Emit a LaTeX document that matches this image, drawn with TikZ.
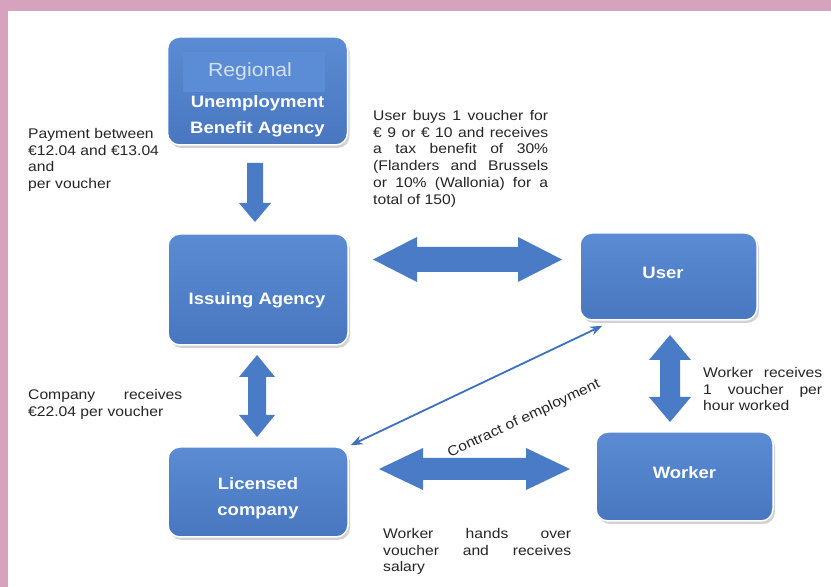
\documentclass[tikz,border=0pt]{standalone}
\usepackage{fontspec}
\setmainfont{Liberation Sans}[FakeStretch=1.12]
\usetikzlibrary{shadows,calc,arrows.meta}
\definecolor{pinkframe}{HTML}{D6A2BE}
\definecolor{boxtop}{HTML}{5A8BD3}
\definecolor{boxbot}{HTML}{4877C0}
\definecolor{arrowblue}{HTML}{4A7BC6}
\definecolor{linkblue}{HTML}{3D70BE}
\definecolor{txtgray}{HTML}{262626}
\definecolor{regtxt}{HTML}{D5E0F2}
\definecolor{reginner}{HTML}{5A8DD5}
\newcommand\jline[2]{\makebox[#1][s]{#2}}
\newcommand\blockdbl[7]{%
\fill[arrowblue,shift={(#1,#2)},rotate=#7] (-#3,0) -- (-#3+#6,#5) -- (-#3+#6,#4) -- (#3-#6,#4) -- (#3-#6,#5) -- (#3,0) -- (#3-#6,-#5) -- (#3-#6,-#4) -- (-#3+#6,-#4) -- (-#3+#6,-#5) -- cycle;}
\begin{document}
\begin{tikzpicture}[x=1pt,y=1pt,
 box/.style={rectangle, rounded corners=12pt, top color=boxtop, bottom color=boxbot, draw=white, line width=1.5pt, drop shadow={shadow xshift=2pt,shadow yshift=-3pt,opacity=0.35}, inner sep=0pt},
 boxtext/.style={text=white, font=\bfseries\fontsize{16.5}{26}\selectfont, align=center, inner sep=0pt},
 note/.style={text=txtgray, font=\fontsize{14}{16.8}\selectfont, inner sep=0pt, anchor=north west, align=left}]
\fill[pinkframe] (0,0) rectangle (831,587);
\fill[white] (8,0) rectangle (831,576);
\useasboundingbox (0,0) rectangle (831,587);

% boxes
\node[box, minimum width=180pt, minimum height=108pt] (regional) at (257.5,496) {};
\node[box, minimum width=180pt, minimum height=111pt] (issuing) at (258,297.5) {};
\node[box, minimum width=177pt, minimum height=87pt] (user) at (668.5,310.5) {};
\node[box, minimum width=180pt, minimum height=90pt] (licensed) at (258,95) {};
\node[box, minimum width=177pt, minimum height=89pt] (worker) at (684.5,110.5) {};

\fill[reginner] (183,535) rectangle (325,495);
\node[text=regtxt, font=\fontsize{19}{22}\selectfont, inner sep=0pt] (regtitle) at (250,515) {Regional};
\node[boxtext] (regname) at (257.5,471) {Unemployment\\Benefit Agency};
\node[boxtext] (issname) at (257,287) {Issuing Agency};
\node[boxtext] (username) at (663,314) {User};
\node[boxtext] (licname) at (258,89) {Licensed\\company};
\node[boxtext] (workname) at (684.5,114) {Worker};

% block arrows
\fill[arrowblue] (247,424) -- (263,424) -- (263,384) -- (271,384) -- (255,365) -- (239,384) -- (247,384) -- cycle;
\blockdbl{467.5}{327.5}{94.5}{12.5}{22.5}{44}{0}
\blockdbl{474.5}{118}{95.5}{11}{21}{44}{0}
\blockdbl{257}{191}{41}{9}{18}{22}{90}
\blockdbl{670}{208.5}{43.5}{10}{21}{25}{90}

% thin connector
\draw[linkblue, line width=1.8pt, {Stealth[length=12pt,width=9pt]}-{Stealth[length=12pt,width=9pt]}] ($(user.south west)+(23,-5)$) -- ($(licensed.north east)+(2,1)$);
\node[note, anchor=center, rotate=25] (contract) at (524,168) {Contract of employment};

% notes
\node[note] (payment) at (28,459) {Payment between\\€12.04 and €13.04\\and\\per voucher};
\node[note] (userbuys) at (373,477) {\jline{175pt}{User buys 1 voucher for}\\\jline{175pt}{€ 9 or € 10 and receives}\\\jline{175pt}{a tax benefit of 30\%}\\\jline{175pt}{(Flanders and Brussels}\\\jline{175pt}{or 10\% (Wallonia) for a}\\total of 150)};
\node[note] (company) at (28,198) {\jline{154pt}{Company receives}\\€22.04 per voucher};
\node[note] (workerrec) at (703,220) {\jline{119pt}{Worker receives}\\\jline{119pt}{1 voucher per}\\hour worked};
\node[note] (workerhands) at (383,59) {\jline{188pt}{Worker hands over}\\\jline{188pt}{voucher and receives}\\salary};
\end{tikzpicture}
\end{document}
